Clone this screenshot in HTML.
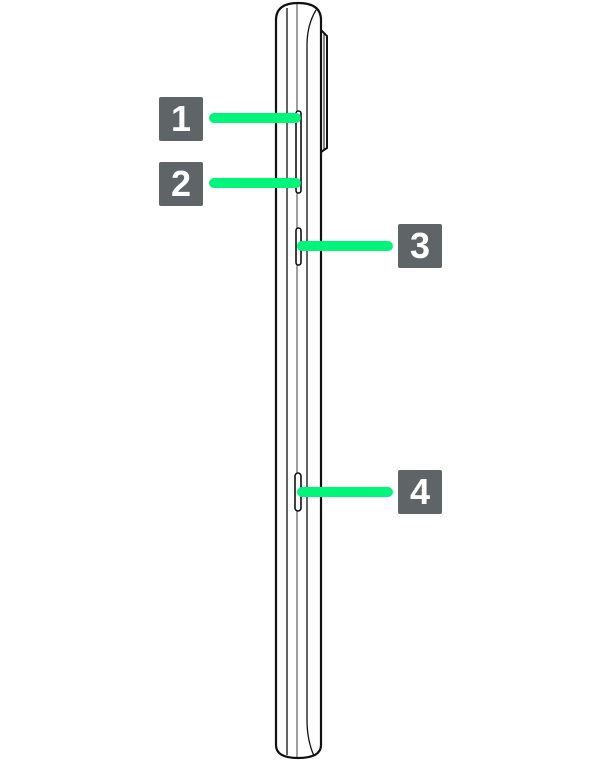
<!DOCTYPE html>
<html><head><style>
html,body{margin:0;padding:0;background:#fff;width:600px;height:761px;overflow:hidden}
.b{position:absolute;width:44px;height:44px;background:#5f6566;color:#fff;font:bold 36px "Liberation Sans",sans-serif;text-align:center;line-height:44px;border-radius:2px}
</style></head><body>
<svg width="600" height="761" style="position:absolute;left:0;top:0" fill="none" stroke="#111">
<path d="M321 30 L327 36 L327 148 L321 152" stroke-width="2"/>
<line x1="324" y1="34" x2="324" y2="150" stroke-width="1"/>
<path d="M276 745 L276 20 Q276 3 298 3 Q321 3 321 20 L321 745 Q321 758 298 758 Q276 758 276 745 Z" stroke-width="2.2"/>
<line x1="287" y1="8" x2="287" y2="755" stroke-width="1.3"/>
<line x1="297" y1="3" x2="297" y2="758" stroke-width="0.8"/>
<path d="M316 10 Q307 25 307 45 L307 720 Q307 740 314 756" stroke-width="1.3"/>
<rect x="296" y="111" width="5" height="82" rx="2.5" fill="#fff" stroke-width="1.6"/>
<rect x="296" y="228" width="5" height="37" rx="2.5" fill="#fff" stroke-width="1.6"/>
<rect x="295" y="473" width="6" height="38" rx="3" fill="#fff" stroke-width="1.6"/>
<g stroke="#00f57a" stroke-width="10" stroke-linecap="round">
<line x1="214" y1="118" x2="296" y2="118"/>
<line x1="214" y1="183" x2="296" y2="183"/>
<line x1="302" y1="246" x2="388" y2="246"/>
<line x1="302" y1="492" x2="388" y2="492"/>
</g>
</svg>
<div class="b" style="left:159px;top:97px">1</div>
<div class="b" style="left:159px;top:162px">2</div>
<div class="b" style="left:398px;top:224px">3</div>
<div class="b" style="left:398px;top:470px">4</div>
</body></html>
